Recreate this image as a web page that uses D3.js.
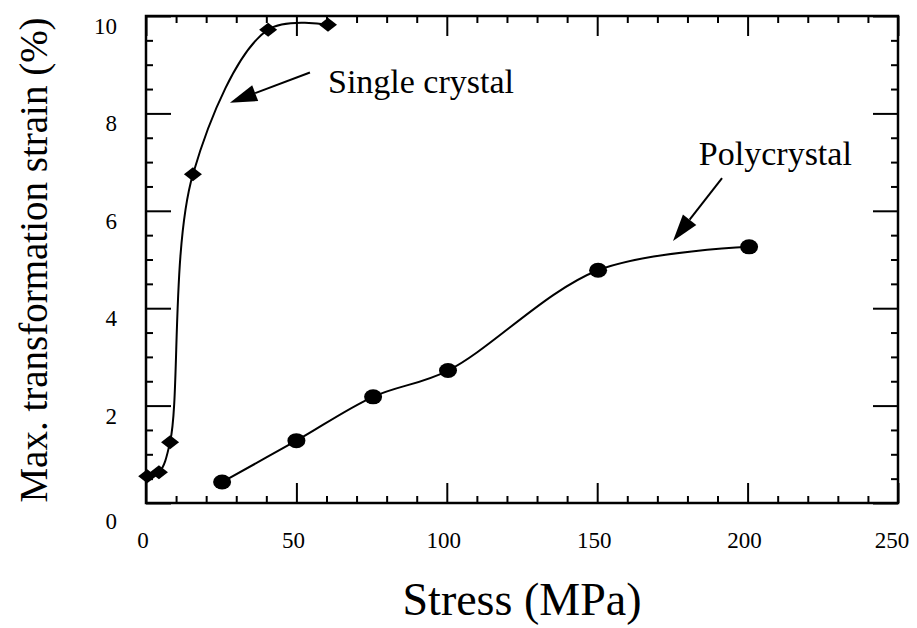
<!DOCTYPE html>
<html>
<head>
<meta charset="utf-8">
<script src="https://cdn.jsdelivr.net/npm/d3@7"></script>
<style>
  body { margin: 0; background: #fff; }
  figure { margin: 0; }
</style>
</head>
<body>
<figure id="chart"></figure>
<script>
// values
const singleStress = [0.4, 4.3, 8, 15.6, 40.6, 60.5];
const singleStrain = [0.55, 0.63, 1.25, 6.75, 9.72, 9.82];
const polyStress = [25.3, 50, 75.5, 100.4, 150.3, 200.5];
const polyStrain = [0.43, 1.28, 2.18, 2.72, 4.78, 5.26];

const xTicks = [0, 50, 100, 150, 200, 250];
const yTicks = [0, 2, 4, 6, 8, 10];
const xTitle = "Stress (MPa)";
const yTitle = "Max. transformation strain (%)";

// annotation labels, with their arrows in data units (stress, strain)
const noteLabels = ["Single crystal", "Polycrystal"];
const noteAt = [[60.5, 8.42], [183.8, 6.94]];
const arrowFrom = [[54.5, 8.84], [191.5, 6.67]];
const arrowTo = [[27.9, 8.22], [175.2, 5.38]];

const FONT = "'Liberation Serif', 'Times New Roman', serif";

const W = 917, H = 628;
const margin = { top: 16, right: 19, bottom: 125, left: 146 };
const width = W - margin.left - margin.right;
const height = H - margin.top - margin.bottom;

const svg = d3.select("figure#chart")
  .append("svg")
  .attr("width", W)
  .attr("height", H)
  .style("font-family", FONT);

const g = svg.append("g")
  .attr("transform", "translate(" + margin.left + "," + margin.top + ")");

const x = d3.scaleLinear().domain([0, 250]).range([0, width]);
const y = d3.scaleLinear().domain([0, 10]).range([height, 0]);

const minorX = d3.range(0, 251, 10).filter(v => v % 50 !== 0);
const minorY = d3.range(0, 10.01, 0.5).filter(v => v % 2 !== 0);

// ticks: all point inward
function ticks(axis, values, size, tr) {
  const a = g.append("g")
    .attr("transform", tr)
    .call(axis.tickValues(values).tickSize(-size).tickSizeOuter(0).tickFormat(""));
  a.select(".domain").remove();
  a.selectAll("line").attr("stroke", "#000").attr("stroke-width", 2);
  return a;
}
ticks(d3.axisBottom(x), minorX, 7, "translate(0," + height + ")");
ticks(d3.axisTop(x), minorX, 7, "translate(0,0)");
ticks(d3.axisLeft(y), minorY, 7, "translate(0,0)");
ticks(d3.axisRight(y), minorY, 7, "translate(" + width + ",0)");
ticks(d3.axisBottom(x), xTicks, 20, "translate(0," + height + ")");
ticks(d3.axisTop(x), xTicks, 20, "translate(0,0)");
ticks(d3.axisLeft(y), yTicks, 25, "translate(0,0)");
ticks(d3.axisRight(y), yTicks, 25, "translate(" + width + ",0)");

// frame
g.append("rect")
  .attr("width", width)
  .attr("height", height)
  .attr("fill", "none")
  .attr("stroke", "#000")
  .attr("stroke-width", 2.5);

// tick labels
g.selectAll(".xl")
  .data(xTicks)
  .enter()
  .append("text")
  .attr("x", d => x(d) - (d === 250 ? 6 : 3))
  .attr("y", height + 45)
  .attr("text-anchor", "middle")
  .attr("font-family", FONT)
  .attr("font-size", 23)
  .text(d => d);

g.selectAll(".yl")
  .data(yTicks)
  .enter()
  .append("text")
  .attr("x", -29)
  .attr("y", d => y(d) + (d === 0 ? 26 : 18))
  .attr("text-anchor", "end")
  .attr("font-family", FONT)
  .attr("font-size", 23)
  .text(d => d);

// axis titles
svg.append("text")
  .attr("x", 522)
  .attr("y", 615)
  .attr("text-anchor", "middle")
  .attr("font-family", FONT)
  .attr("font-size", 46)
  .text(xTitle);

svg.append("text")
  .attr("transform", "translate(47,260) rotate(-90)")
  .attr("text-anchor", "middle")
  .attr("font-family", FONT)
  .attr("font-size", 39)
  .text(yTitle);

// curves
const line = d3.line()
  .x(d => x(d[0]))
  .y(d => y(d[1]))
  .curve(d3.curveCatmullRom.alpha(0.5));

const single = singleStress.map((s, i) => [s, singleStrain[i]]);
const poly = polyStress.map((s, i) => [s, polyStrain[i]]);

[single, poly].forEach(pts => {
  g.append("path")
    .datum(pts)
    .attr("d", line)
    .attr("fill", "none")
    .attr("stroke", "#000")
    .attr("stroke-width", 2);
});

// markers
g.selectAll(".diamond")
  .data(single)
  .enter()
  .append("path")
  .attr("transform", d => "translate(" + x(d[0]) + "," + y(d[1]) + ")")
  .attr("d", "M-9,0L0,-7L9,0L0,7Z")
  .attr("fill", "#000");

g.selectAll(".dot")
  .data(poly)
  .enter()
  .append("ellipse")
  .attr("cx", d => x(d[0]))
  .attr("cy", d => y(d[1]))
  .attr("rx", 9)
  .attr("ry", 7.5)
  .attr("fill", "#000");

// annotations
noteLabels.forEach((label, i) => {
  g.append("text")
    .attr("x", x(noteAt[i][0]))
    .attr("y", y(noteAt[i][1]))
    .attr("font-family", FONT)
    .attr("font-size", 34)
    .text(label);

  const x0 = x(arrowFrom[i][0]), y0 = y(arrowFrom[i][1]);
  const x1 = x(arrowTo[i][0]), y1 = y(arrowTo[i][1]);
  const len = Math.hypot(x1 - x0, y1 - y0);
  const ux = (x1 - x0) / len, uy = (y1 - y0) / len;
  const head = 27, half = 8.5;
  const bx = x1 - ux * head, by = y1 - uy * head;

  g.append("line")
    .attr("x1", x0).attr("y1", y0)
    .attr("x2", bx).attr("y2", by)
    .attr("stroke", "#000")
    .attr("stroke-width", 2);

  g.append("path")
    .attr("d", "M" + x1 + "," + y1 +
      "L" + (bx - uy * half) + "," + (by + ux * half) +
      "L" + (bx + uy * half) + "," + (by - ux * half) + "Z")
    .attr("fill", "#000");
});
</script>
</body>
</html>
